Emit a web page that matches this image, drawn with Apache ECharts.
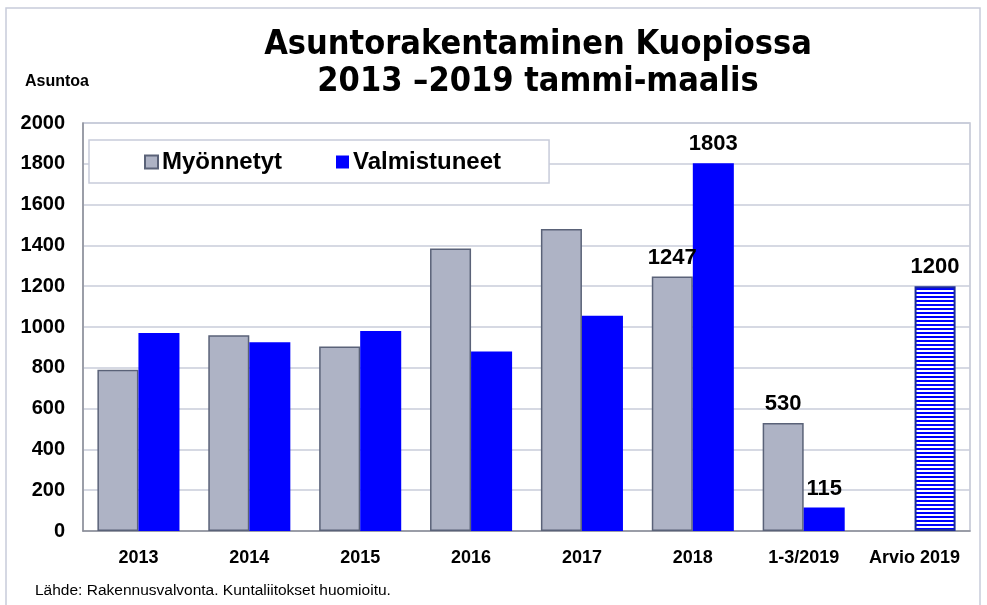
<!DOCTYPE html>
<html>
<head>
<meta charset="utf-8">
<script src="https://cdn.jsdelivr.net/npm/echarts@6/dist/echarts.min.js"></script>
<style>
html, body { margin: 0; padding: 0; background: #fff; }
#chart { width: 987px; height: 605px; }
</style>
</head>
<body>
<div id="chart"></div>
<script>
var categories = ['2013', '2014', '2015', '2016', '2017', '2018', '1-3/2019', 'Arvio 2019'];
var myonnetyt = [790, 960, 905, 1385, 1480, 1247, 530, null];
var valmistuneet = [970, 925, 980, 880, 1055, 1803, 115, 1200];
var labelled = [5, 6, 7]; // näille sarakkeille arvot näkyviin
var yTicks = { min: 0, max: 2000, interval: 200 };

// vaakaraidoitus arviopalkkiin
var stripe = document.createElement('canvas');
stripe.width = 4;
stripe.height = 4;
var ctx = stripe.getContext('2d');
ctx.fillStyle = '#fff';
ctx.fillRect(0, 0, 4, 4);
ctx.fillStyle = '#0000ff';
ctx.fillRect(0, 0, 4, 2);

var labelStyle = {
  show: true,
  position: 'top',
  distance: 8,
  color: '#000',
  fontFamily: 'Liberation Sans, Arial',
  fontWeight: 'bold',
  fontSize: 22
};

var grayData = myonnetyt.map(function (v, i) {
  if (v === null) return '-';
  return labelled.indexOf(i) >= 0 ? { value: v, label: labelStyle } : v;
});
var blueData = valmistuneet.map(function (v, i) {
  var item = { value: v };
  if (labelled.indexOf(i) >= 0) item.label = labelStyle;
  if (i === categories.length - 1) {
    item.itemStyle = {
      color: { image: stripe, repeat: 'repeat' },
      borderColor: '#1c2c9c',
      borderWidth: 2
    };
  }
  return item;
});

var option = {
  animation: false,
  backgroundColor: '#fff',
  textStyle: { fontFamily: 'Liberation Sans, Arial' },
  title: {
    text: 'Asuntorakentaminen Kuopiossa\n2013 –2019 tammi-maalis',
    left: 533,
    textAlign: 'center',
    top: 22,
    textStyle: {
      fontFamily: 'DejaVu Sans Condensed, DejaVu Sans',
      fontWeight: 'bold',
      fontSize: 34,
      lineHeight: 37,
      color: '#000'
    }
  },
  legend: {
    left: 89,
    top: 140,
    backgroundColor: '#fff',
    borderColor: '#c8ccda',
    borderWidth: 1.5,
    padding: [10, 48, 9, 55],
    itemGap: 54,
    itemWidth: 13,
    itemHeight: 13,
    textStyle: { fontWeight: 'bold', fontSize: 24, color: '#000', padding: [0, 0, 0, -1] },
    data: [
      { name: 'Myönnetyt', icon: 'rect' },
      { name: 'Valmistuneet', icon: 'rect' }
    ]
  },
  grid: { left: 83, right: 17, top: 123, bottom: 74 },
  xAxis: {
    type: 'category',
    data: categories,
    axisLine: { lineStyle: { color: '#8a8d96', width: 1.5 } },
    axisTick: { show: false },
    axisLabel: { interval: 0, color: '#000', fontWeight: 'bold', fontSize: 18, margin: 18 }
  },
  yAxis: {
    type: 'value',
    min: yTicks.min,
    max: yTicks.max,
    interval: yTicks.interval,
    name: 'Asuntoa',
    nameLocation: 'end',
    nameGap: 33,
    nameTextStyle: { color: '#000', fontWeight: 'bold', fontSize: 16, align: 'left', padding: [0, 0, 0, -58] },
    axisLine: { show: true, lineStyle: { color: '#8a8d96', width: 1.5 } },
    axisTick: { show: false },
    axisLabel: {
      color: '#000', fontWeight: 'bold', fontSize: 20, margin: 18,
      formatter: function (v) { return String(v); }
    },
    splitLine: { lineStyle: { color: '#c8ccda', width: 1.5 } }
  },
  graphic: [
    {
      type: 'rect',
      shape: { x: 6, y: 8, width: 974, height: 600 },
      style: { fill: null, stroke: '#c8ccda', lineWidth: 1.5 },
      silent: true
    },
    {
      type: 'rect',
      shape: { x: 83, y: 123, width: 887, height: 408 },
      style: { fill: null, stroke: '#c0c4d2', lineWidth: 1.5 },
      silent: true,
      z: 0
    },
    {
      type: 'text',
      left: 35,
      top: 583,
      style: { text: 'Lähde: Rakennusvalvonta. Kuntaliitokset huomioitu.', fontSize: 15.5, fill: '#000', fontFamily: 'Liberation Sans, Arial' }
    }
  ],
  series: [
    {
      name: 'Myönnetyt',
      type: 'bar',
      barGap: '0%',
      barCategoryGap: '26%',
      itemStyle: { color: '#aeb3c5', borderColor: '#5a6278', borderWidth: 1.5 },
      data: grayData
    },
    {
      name: 'Valmistuneet',
      type: 'bar',
      itemStyle: { color: '#0000ff' },
      data: blueData
    }
  ]
};

echarts.init(document.getElementById('chart')).setOption(option);
</script>
</body>
</html>
